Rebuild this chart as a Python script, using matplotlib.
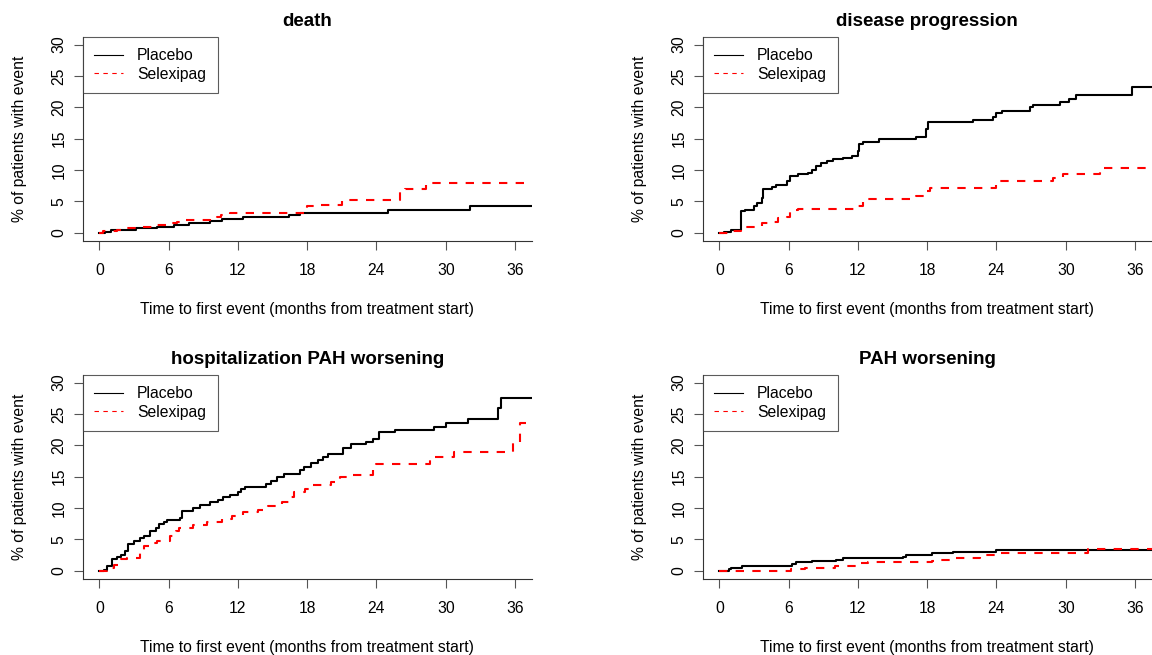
import matplotlib
matplotlib.use("Agg")
import matplotlib.pyplot as plt

plt.rcParams['font.family'] = ['Liberation Sans', 'DejaVu Sans']

# months from treatment start / cumulative % with event (step functions)
death_plc_t = [0, 0.5, 1.0, 3.2, 5.0, 6.5, 7.8, 9.6, 10.6, 12.4, 16.4, 17.4, 25.0, 32.1, 38]
death_plc_v = [0, 0.2, 0.4, 0.7, 0.95, 1.2, 1.6, 1.9, 2.2, 2.55, 2.8, 3.2, 3.6, 4.3, 4.3]
death_sel_t = [0, 0.3, 1.5, 2.3, 3.5, 5.0, 6.0, 6.7, 7.2, 9.6, 10.2, 10.5, 11.3, 17.7, 18.0, 19.0,
               21.0, 26.0, 26.5, 28.3, 38]
death_sel_v = [0, 0.3, 0.5, 0.8, 1.0, 1.2, 1.5, 1.8, 2.0, 2.2, 2.5, 2.9, 3.2, 3.6, 4.2, 4.4,
               5.2, 6.5, 7.0, 8.0, 8.0]

prog_plc_t = [0, 0.4, 1.0, 1.9, 2.2, 3.0, 3.3, 3.66, 3.8, 4.6, 4.9, 5.9, 6.1, 6.8, 7.7, 8.0, 8.4,
              8.8, 9.3, 9.8, 10.7, 11.5, 12.0, 12.1, 12.4, 13.8, 17.0, 17.9, 18.05, 22.0, 23.7,
              24.0, 24.5, 26.9, 27.2, 29.5, 30.3, 30.9, 35.75, 38]
prog_plc_v = [0, 0.2, 0.5, 3.5, 3.7, 4.3, 4.7, 5.5, 7.0, 7.3, 7.7, 8.3, 9.1, 9.4, 9.6, 10.0, 10.6,
              11.1, 11.5, 11.8, 12.0, 12.2, 13.0, 14.2, 14.4, 15.0, 15.3, 16.5, 17.7, 18.0, 18.5,
              19.1, 19.4, 20.0, 20.3, 20.9, 21.3, 22.0, 23.2, 23.2]
prog_sel_t = [0, 1.1, 1.9, 3.7, 4.2, 5.1, 5.9, 6.1, 6.8, 11.8, 12.4, 12.6, 17.0, 17.9, 18.2,
              24.0, 28.9, 29.8, 33.0, 38]
prog_sel_v = [0, 0.3, 0.9, 1.5, 1.8, 2.3, 2.6, 3.6, 3.8, 4.2, 5.0, 5.4, 5.8, 6.6, 7.1,
              8.2, 8.7, 9.4, 10.3, 10.3]

hosp_plc_t = [0, 0.37, 0.7, 1.1, 1.5, 1.9, 2.2, 2.5, 3.0, 3.5, 3.9, 4.4, 4.9, 5.2, 5.6, 5.9, 7.0,
              7.2, 8.1, 8.7, 9.6, 10.3, 10.7, 11.3, 12.0, 12.3, 12.6, 14.4, 14.9, 15.4, 16.0,
              17.4, 17.7, 18.3, 18.9, 19.4, 19.8, 21.1, 21.8, 23.1, 23.7, 24.2, 25.6, 29.0, 30.0,
              31.9, 34.5, 34.8, 38]
hosp_plc_v = [0, 0.2, 0.8, 1.9, 2.2, 2.5, 3.2, 4.2, 4.8, 5.2, 5.6, 6.3, 6.8, 7.4, 7.8, 8.1, 8.4,
              9.5, 10.0, 10.5, 10.9, 11.3, 11.7, 12.1, 12.5, 13.0, 13.4, 13.9, 14.3, 14.9, 15.5,
              16.0, 16.5, 17.2, 17.6, 18.1, 18.6, 19.6, 20.2, 20.6, 21.0, 22.1, 22.5, 22.9, 23.5,
              24.2, 26.0, 27.5, 27.5]
hosp_sel_t = [0, 0.7, 1.3, 1.9, 2.4, 3.5, 3.9, 4.5, 5.0, 6.1, 6.6, 6.9, 8.1, 9.3, 10.6, 11.5,
              12.4, 13.7, 14.6, 15.8, 16.4, 16.9, 17.8, 18.3, 20.1, 20.8, 21.8, 23.7, 24.0, 28.6,
              30.7, 35.8, 36.4, 38]
hosp_sel_v = [0, 0.5, 1.0, 1.9, 2.1, 3.0, 3.9, 4.4, 4.7, 5.5, 6.3, 6.8, 7.3, 7.8, 8.3, 8.8,
              9.4, 9.7, 10.3, 10.9, 11.8, 12.6, 13.1, 13.6, 14.2, 14.9, 15.2, 16.3, 17.1, 18.1,
              18.9, 20.3, 23.5, 23.5]

pah_plc_t = [0, 0.8, 1.0, 2.0, 6.3, 6.6, 8.0, 10.1, 10.7, 15.9, 16.2, 18.4, 20.2, 24.0, 38]
pah_plc_v = [0, 0.3, 0.5, 0.8, 1.1, 1.4, 1.5, 1.8, 2.0, 2.2, 2.6, 2.8, 3.0, 3.3, 3.3]
pah_sel_t = [0, 6.2, 7.4, 10.0, 12.0, 12.9, 18.4, 19.1, 20.2, 22.6, 24.0, 31.9, 38]
pah_sel_v = [0, 0.3, 0.5, 0.8, 1.2, 1.4, 1.5, 1.8, 2.0, 2.5, 2.8, 3.5, 3.5]

titles = ["death", "disease progression", "hospitalization PAH worsening", "PAH worsening"]
panels = [
    (death_plc_t, death_plc_v, death_sel_t, death_sel_v),
    (prog_plc_t, prog_plc_v, prog_sel_t, prog_sel_v),
    (hosp_plc_t, hosp_plc_v, hosp_sel_t, hosp_sel_v),
    (pah_plc_t, pah_plc_v, pah_sel_t, pah_sel_v),
]
xticks = [0, 6, 12, 18, 24, 30, 36]
yticks = [0, 5, 10, 15, 20, 25, 30]

W, H = 1152, 655
fig = plt.figure(figsize=(W / 100, H / 100), dpi=100)

# axes boxes in pixels: left, top, right, bottom
boxes = [(82.7, 36.7, 531.7, 240.7), (702.7, 36.7, 1151.7, 240.7),
         (82.7, 374.7, 531.7, 578.7), (702.7, 374.7, 1151.7, 578.7)]

fs = 11.3
axc = '#333333'
for (l, t, r, b), title, (pt, pv, st, sv) in zip(boxes, titles, panels):
    ax = fig.add_axes([l / W, 1 - b / H, (r - l) / W, (b - t) / H])
    ax.step(pt, pv, where='post', color='black', lw=1.5, label='Placebo')
    ax.step(st, sv, where='post', color='red', lw=1.5, linestyle=(0, (4, 4)), label='Selexipag')
    ax.set_xlim(-1.44, 37.44)
    ax.set_ylim(-1.25, 31.25)
    ax.set_xticks(xticks)
    ax.set_yticks(yticks)
    for s in ['top', 'right']:
        ax.spines[s].set_visible(False)
    for s in ['left', 'bottom']:
        ax.spines[s].set_color(axc)
        ax.spines[s].set_linewidth(0.8)
    ax.tick_params(axis='both', length=6.5, width=0.8, color='#555555', labelsize=fs)
    ax.tick_params(axis='x', pad=9.5)
    ax.tick_params(axis='y', pad=5)
    for lab in ax.get_yticklabels():
        lab.set_rotation(90)
        lab.set_va('center')
    ax.set_title(title, fontsize=13.5, fontweight='bold', pad=7.5)
    ax.set_xlabel('Time to first event (months from treatment start)', fontsize=fs, labelpad=17)
    ax.set_ylabel('% of patients with event', fontsize=fs, labelpad=17.5)
    leg = ax.legend(loc='upper left', borderaxespad=0, fancybox=False, fontsize=fs,
                    handlelength=1.8, handletextpad=0.9, borderpad=0.75, labelspacing=0.2)
    leg.get_frame().set_edgecolor(axc)
    leg.get_frame().set_linewidth(0.8)
    for h in leg.get_lines():
        h.set_linewidth(0.8)

fig.savefig('out.png', dpi=100)
